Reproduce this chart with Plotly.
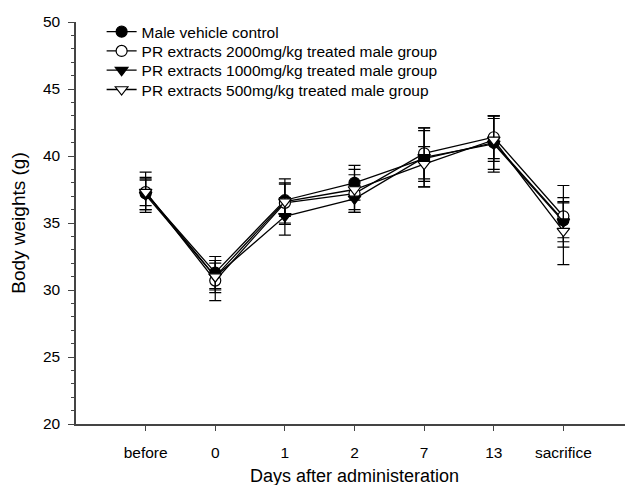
import plotly.graph_objects as go

categories = ["before", "0", "1", "2", "7", "13", "sacrifice"]

ctrl_mean = [37.2, 31.3, 36.7, 38.0, 39.8, 41.0, 35.2]
ctrl_sd = [1.2, 1.2, 1.2, 1.3, 2.1, 2.0, 1.3]

g2000_mean = [37.3, 30.7, 36.5, 37.2, 40.2, 41.4, 35.5]
g2000_sd = [1.5, 1.5, 1.5, 1.4, 1.9, 1.6, 2.3]

g1000_mean = [37.1, 31.0, 35.5, 36.8, 39.9, 40.9, 35.1]
g1000_sd = [1.1, 1.0, 1.4, 1.0, 2.2, 2.1, 1.5]

g500_mean = [37.3, 31.0, 36.6, 37.5, 39.4, 41.2, 34.4]
g500_sd = [1.0, 1.2, 1.7, 1.5, 1.3, 1.6, 2.5]

series = [
    ("Male vehicle control", ctrl_mean, ctrl_sd, "circle", "black"),
    ("PR extracts 2000mg/kg treated male group", g2000_mean, g2000_sd, "circle", "white"),
    ("PR extracts 1000mg/kg treated male group", g1000_mean, g1000_sd, "triangle-down", "black"),
    ("PR extracts 500mg/kg treated male group", g500_mean, g500_sd, "triangle-down", "white"),
]

FONT = "Arial, 'Liberation Sans', sans-serif"
xidx = list(range(len(categories)))
legend_ids = ["legend", "legend2", "legend3", "legend4"]
legend_y = [0.975, 0.927, 0.879, 0.831]

fig = go.Figure()
for (name, mean, sd, sym, fill), lid in zip(series, legend_ids):
    fig.add_trace(go.Scatter(
        x=xidx, y=mean, name=name, mode="lines+markers", legend=lid,
        line=dict(color="black", width=1.3),
        marker=dict(symbol=sym, size=11, color=fill, line=dict(color="black", width=1.2)),
        error_y=dict(type="data", array=sd, visible=True, color="black", thickness=1.2, width=6),
    ))

leg_common = dict(x=0.046, xanchor="left", yanchor="middle", bgcolor="rgba(0,0,0,0)",
                  font=dict(size=15.5, family=FONT, color="black"), itemwidth=30)
layout_legends = {lid: dict(y=yy, **leg_common) for lid, yy in zip(legend_ids, legend_y)}

fig.update_layout(
    width=633, height=485,
    margin=dict(l=68, r=8, t=14, b=69, autoexpand=False),
    paper_bgcolor="white", plot_bgcolor="white",
    font=dict(family=FONT, size=15.5, color="black"),
    showlegend=True,
    **layout_legends,
)
fig.update_xaxes(
    range=[-1, 7], tickmode="array", tickvals=xidx, ticktext=categories,
    showgrid=False, zeroline=False, showline=True, linecolor="#444", linewidth=1.5,
    ticks="outside", ticklen=5, tickcolor="#444", tickwidth=1.2,
    ticklabelstandoff=9,
    title=dict(text="Days after administeration", font=dict(size=18, family=FONT), standoff=9),
    tickfont=dict(size=15.5),
)
fig.update_yaxes(
    range=[20, 50], dtick=5, showgrid=False, zeroline=False,
    showline=True, linecolor="#444", linewidth=1.5,
    ticks="outside", ticklen=6, tickcolor="#444", tickwidth=1.2,
    ticklabelstandoff=5,
    minor=dict(dtick=1, ticks="outside", ticklen=3, tickcolor="#444", tickwidth=1),
    title=dict(text="Body weights (g)", font=dict(size=19, family=FONT), standoff=12),
    tickfont=dict(size=15.5),
)

fig.write_html("out.html")
